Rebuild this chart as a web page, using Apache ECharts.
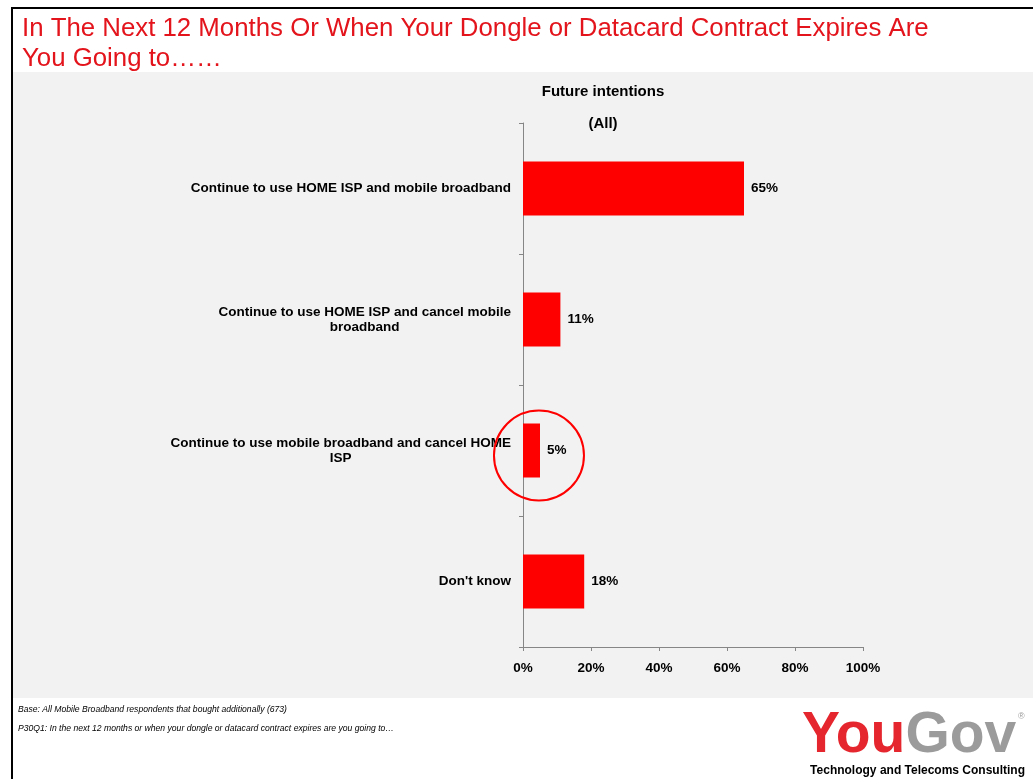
<!DOCTYPE html>
<html>
<head>
<meta charset="utf-8">
<script src="https://cdn.jsdelivr.net/npm/echarts@6/dist/echarts.min.js"></script>
<style>
html,body{margin:0;padding:0;background:#ffffff;}
#chart{width:1033px;height:779px;}
</style>
</head>
<body>
<div id="chart"></div>
<script>
// ---- data ----
const pageTitleLines = [
  'In The Next 12 Months Or When Your Dongle or Datacard Contract Expires Are',
  'You Going to\u2026\u2026'
];
const chartTitle = 'Future intentions';
const chartSubtitle = '(All)';
const categories = [
  'Continue to use HOME ISP and mobile broadband',
  'Continue to use HOME ISP and cancel mobile broadband',
  'Continue to use mobile broadband and cancel HOME ISP',
  "Don't know"
];
const values = [65, 11, 5, 18];
const xTickValues = [0, 20, 40, 60, 80, 100];
const highlightCategory = categories[2];
const highlightValue = 4.7;
const footnotes = [
  'Base: All Mobile Broadband respondents that bought additionally (673)',
  'P30Q1: In the next 12 months or when your dongle or datacard contract expires are you going to\u2026'
];
const logoParts = ['You', 'Gov'];
const logoTagline = 'Technology and Telecoms Consulting';

// ---- helpers ----
const FONT = "'Liberation Sans', Arial, Helvetica, sans-serif";
const LABEL_SIZE = 13.5;
const measureCtx = document.createElement('canvas').getContext('2d');
function wrapText(text, maxWidth, font) {
  measureCtx.font = font;
  const words = text.split(' ');
  const lines = [];
  let cur = '';
  words.forEach(w => {
    const test = cur ? cur + ' ' + w : w;
    if (cur && measureCtx.measureText(test).width > maxWidth) {
      lines.push(cur);
      cur = w;
    } else {
      cur = test;
    }
  });
  if (cur) lines.push(cur);
  return lines;
}

const chart = echarts.init(document.getElementById('chart'), null, {renderer: 'canvas'});

const option = {
  backgroundColor: '#ffffff',
  animation: false,
  graphic: [
    // grey panel
    {type: 'rect', z: -10, shape: {x: 13, y: 72, width: 1020, height: 626}, style: {fill: '#f2f2f2'}},
    // black frame lines
    {type: 'rect', z: 10, shape: {x: 11, y: 7, width: 1022, height: 2}, style: {fill: '#000000'}},
    {type: 'rect', z: 10, shape: {x: 11, y: 7, width: 2, height: 772}, style: {fill: '#000000'}},
    // page title
    {type: 'text', x: 22, y: 29, style: {text: pageTitleLines[0], font: '25.8px ' + FONT, fill: '#e3141c', verticalAlign: 'middle'}},
    {type: 'text', x: 22, y: 59, style: {text: pageTitleLines[1], font: '25.8px ' + FONT, fill: '#e3141c', verticalAlign: 'middle'}},
    // chart titles
    {type: 'text', x: 603, y: 92, style: {text: chartTitle, font: 'bold 15px ' + FONT, fill: '#000', align: 'center', verticalAlign: 'middle'}},
    {type: 'text', x: 603, y: 124, style: {text: chartSubtitle, font: 'bold 15px ' + FONT, fill: '#000', align: 'center', verticalAlign: 'middle'}},
    // footnotes
    {type: 'text', x: 18, y: 710, style: {text: footnotes[0], font: 'italic 8.6px ' + FONT, fill: '#000', verticalAlign: 'middle'}},
    {type: 'text', x: 18, y: 729, style: {text: footnotes[1], font: 'italic 8.6px ' + FONT, fill: '#000', verticalAlign: 'middle'}},
    // logo
    {type: 'text', x: 802, y: 736, style: {
      text: '{r|' + logoParts[0] + '}{g|' + logoParts[1] + '}',
      verticalAlign: 'middle',
      rich: {
        r: {font: 'bold 57px ' + FONT, fill: '#e5262e'},
        g: {font: 'bold 57px ' + FONT, fill: '#9b9b9b'}
      }
    }},
    {type: 'text', x: 1018, y: 717, style: {text: '\u00ae', font: '9px ' + FONT, fill: '#9b9b9b', verticalAlign: 'middle'}},
    {type: 'text', x: 1025, y: 771, style: {text: logoTagline, font: 'bold 12px ' + FONT, fill: '#000', align: 'right', verticalAlign: 'middle'}}
  ],
  grid: {left: 523, top: 123, width: 340, height: 524, containLabel: false},
  xAxis: {
    type: 'value',
    min: 0, max: 100, interval: 20,
    axisLine: {show: true, lineStyle: {color: '#868686', width: 1}},
    axisTick: {show: true, length: 4, inside: false, lineStyle: {color: '#868686'}},
    splitLine: {show: false},
    axisLabel: {
      margin: 14,
      formatter: v => (xTickValues.indexOf(v) >= 0 ? v + '%' : ''),
      fontFamily: FONT, fontWeight: 'bold', fontSize: LABEL_SIZE, color: '#000'
    }
  },
  yAxis: {
    type: 'category',
    inverse: true,
    data: categories,
    axisLine: {show: true, lineStyle: {color: '#868686', width: 1}},
    axisTick: {show: true, length: 4, inside: false, lineStyle: {color: '#868686'}},
    axisLabel: {
      margin: 12,
      formatter: v => wrapText(v, 345, 'bold ' + LABEL_SIZE + 'px ' + FONT).map(l => '{c|' + l + '}').join('\n'),
      rich: {
        c: {align: 'center', fontFamily: FONT, fontWeight: 'bold', fontSize: LABEL_SIZE, color: '#000', lineHeight: 15}
      }
    }
  },
  series: [{
    type: 'bar',
    data: values,
    barWidth: 54,
    itemStyle: {color: '#ff0000'},
    label: {
      show: true, position: 'right', distance: 7,
      formatter: p => p.value + '%',
      fontFamily: FONT, fontWeight: 'bold', fontSize: LABEL_SIZE, color: '#000'
    },
    markPoint: {
      silent: true,
      data: [{
        coord: [highlightValue, highlightCategory],
        symbol: 'circle',
        symbolSize: 90,
        symbolOffset: [0, 5],
        itemStyle: {color: 'rgba(0,0,0,0)', borderColor: '#ff0000', borderWidth: 2},
        label: {show: false}
      }]
    }
  }]
};
chart.setOption(option);
</script>
</body>
</html>
